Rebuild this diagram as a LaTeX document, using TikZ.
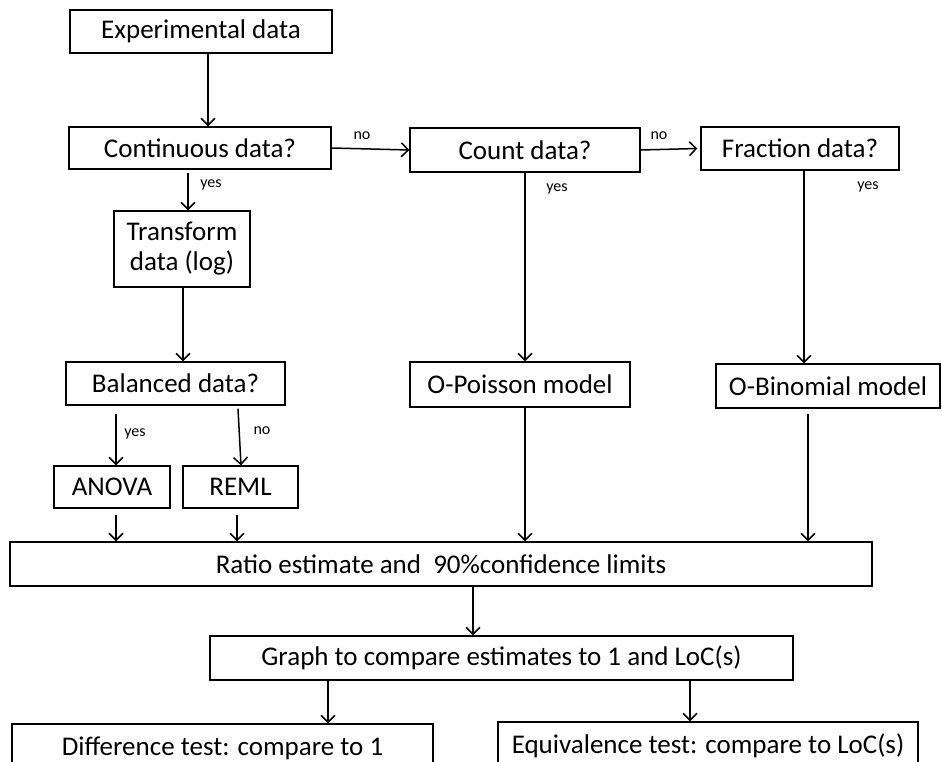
\documentclass[tikz,border=0pt]{standalone}
\usepackage{fontspec}
\setmainfont{Carlito}
\usetikzlibrary{arrows.meta}
\begin{document}
\begin{tikzpicture}[x=1pt,y=-1pt,
 box/.style={draw,line width=1.3pt,rectangle,inner sep=0pt,align=center,font=\fontsize{27}{30}\selectfont},
 arr/.style={line width=1.5pt,-{Straight Barb[length=7pt,width=14pt]}},
 lbl/.style={inner sep=0pt,font=\fontsize{16}{18}\selectfont}]
\useasboundingbox (0,0) rectangle (942,762);
\clip (0,0) rectangle (942,762);
% boxes
\node[box,minimum width=262pt,minimum height=43pt] (exp) at (201,31.5) {Experimental data};
\node[box,minimum width=262pt,minimum height=42pt] (cont) at (200,148) {Continuous data?};
\node[box,minimum width=230pt,minimum height=44pt] (count) at (525,150) {Count data?};
\node[box,minimum width=198pt,minimum height=43pt] (frac) at (800,148.5) {Fraction data?};
\node[box,minimum width=136pt,minimum height=76pt] (trans) at (182,249) {Transform\\data (log)};
\node[box,minimum width=219pt,minimum height=43pt] (bal) at (175.5,383.5) {Balanced data?};
\node[box,minimum width=116pt,minimum height=42pt] (anova) at (112,487) {ANOVA};
\node[box,minimum width=115pt,minimum height=42pt] (reml) at (240.5,487) {REML};
\node[box,minimum width=220pt,minimum height=45pt] (pois) at (520,384.5) {O-Poisson model};
\node[box,minimum width=224pt,minimum height=44pt] (binom) at (828,386) {O-Binomial model};
\node[box,minimum width=862pt,minimum height=44pt] (ratio) at (441,564) {Ratio estimate and \ 90\%confidence limits};
\node[box,minimum width=583pt,minimum height=44pt] (graph) at (501.5,658) {Graph to compare estimates to 1 and LoC(s)};
\node[box,minimum width=421pt,minimum height=48pt] (diff) at (222.5,748) {Difference test: compare to 1};
\node[box,minimum width=420pt,minimum height=48pt] (equiv) at (708,746) {Equivalence test: compare to LoC(s)};
% labels
\node[lbl] (l1) at (362,136) {no};
\node[lbl] (l2) at (659,136) {no};
\node[lbl] (l3) at (211,185) {yes};
\node[lbl] (l4) at (557,189) {yes};
\node[lbl] (l5) at (868,187) {yes};
\node[lbl] (l6) at (135,434) {yes};
\node[lbl] (l7) at (262,431) {no};
% connectors
\draw[arr] ([xshift=7pt]exp.south) -- ([xshift=8pt]cont.north);
\draw[arr] (cont.east) -- (count.west);
\draw[arr] (count.east) -- ([xshift=-3pt]frac.west);
\draw[arr] ([xshift=-12pt,yshift=-3pt]cont.south) -- ([xshift=6pt]trans.north);
\draw[arr] ([xshift=1pt]trans.south) -- ([xshift=7.5pt]bal.north);
\draw[arr] ([xshift=-59.5pt,yshift=-8pt]bal.south) -- ([xshift=4pt]anova.north);
\draw[arr] ([xshift=62.5pt,yshift=-3pt]bal.south) -- ([xshift=0.5pt]reml.north);
\draw[arr] ([xshift=4pt,yshift=-6pt]anova.south) -- ([xshift=-325pt]ratio.north);
\draw[arr] ([xshift=-3.5pt,yshift=-6pt]reml.south) -- ([xshift=-204pt]ratio.north);
\draw[arr] (count.south) -- ([xshift=5pt]pois.north);
\draw[arr] ([xshift=4pt]frac.south) -- ([xshift=-24pt]binom.north);
\draw[arr] ([xshift=5pt]pois.south) -- ([xshift=84pt]ratio.north);
\draw[arr] ([xshift=-20pt,yshift=-5pt]binom.south) -- ([xshift=367pt]ratio.north);
\draw[arr] ([xshift=32pt]ratio.south) -- ([xshift=-28.5pt]graph.north);
\draw[arr] ([xshift=-173.5pt]graph.south) -- ([xshift=105.5pt]diff.north);
\draw[arr] ([xshift=188.5pt]graph.south) -- ([xshift=-18pt]equiv.north);
\end{tikzpicture}
\end{document}
